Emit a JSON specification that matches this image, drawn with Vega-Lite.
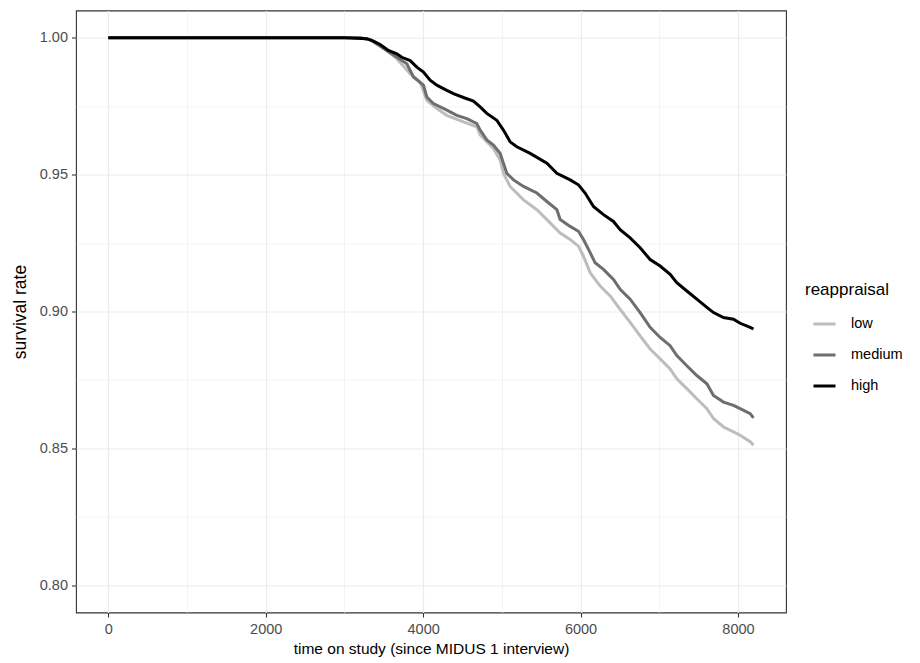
{
  "$schema": "https://vega.github.io/schema/vega-lite/v6.json",
  "width": 710,
  "height": 602,
  "autosize": {"type": "none"},
  "padding": {"left": 76, "top": 10.5, "right": 134, "bottom": 50.5},
  "background": "white",
  "config": {
    "font": "Liberation Sans",
    "view": {"stroke": "#333333", "strokeWidth": 1.1}
  },
  "datasets": {
    "km": [
      {"g": "low", "t": 0, "s": 1.0},
      {"g": "low", "t": 3200, "s": 1.0},
      {"g": "low", "t": 3330, "s": 0.9992},
      {"g": "low", "t": 3454, "s": 0.9972},
      {"g": "low", "t": 3666, "s": 0.9924},
      {"g": "low", "t": 3835, "s": 0.9869},
      {"g": "low", "t": 3962, "s": 0.9839},
      {"g": "low", "t": 4047, "s": 0.9772},
      {"g": "low", "t": 4174, "s": 0.9742},
      {"g": "low", "t": 4301, "s": 0.9717},
      {"g": "low", "t": 4512, "s": 0.9693},
      {"g": "low", "t": 4682, "s": 0.9675},
      {"g": "low", "t": 4724, "s": 0.9645},
      {"g": "low", "t": 4893, "s": 0.9596},
      {"g": "low", "t": 4978, "s": 0.9554},
      {"g": "low", "t": 5020, "s": 0.9505},
      {"g": "low", "t": 5105, "s": 0.9457},
      {"g": "low", "t": 5275, "s": 0.9408},
      {"g": "low", "t": 5445, "s": 0.9372},
      {"g": "low", "t": 5572, "s": 0.9336},
      {"g": "low", "t": 5741, "s": 0.9287},
      {"g": "low", "t": 5868, "s": 0.9263},
      {"g": "low", "t": 5973, "s": 0.9239},
      {"g": "low", "t": 6037, "s": 0.9202},
      {"g": "low", "t": 6122, "s": 0.9142},
      {"g": "low", "t": 6249, "s": 0.9093},
      {"g": "low", "t": 6376, "s": 0.9057},
      {"g": "low", "t": 6503, "s": 0.9008},
      {"g": "low", "t": 6630, "s": 0.896},
      {"g": "low", "t": 6757, "s": 0.8911},
      {"g": "low", "t": 6884, "s": 0.8863},
      {"g": "low", "t": 7011, "s": 0.8827},
      {"g": "low", "t": 7138, "s": 0.879},
      {"g": "low", "t": 7223, "s": 0.8754},
      {"g": "low", "t": 7350, "s": 0.8718},
      {"g": "low", "t": 7477, "s": 0.8681},
      {"g": "low", "t": 7605, "s": 0.8645},
      {"g": "low", "t": 7689, "s": 0.8609},
      {"g": "low", "t": 7816, "s": 0.8578},
      {"g": "low", "t": 7943, "s": 0.856},
      {"g": "low", "t": 8028, "s": 0.8548},
      {"g": "low", "t": 8155, "s": 0.8524},
      {"g": "low", "t": 8197, "s": 0.8511},

      {"g": "medium", "t": 0, "s": 1.0},
      {"g": "medium", "t": 3200, "s": 1.0},
      {"g": "medium", "t": 3330, "s": 0.9993},
      {"g": "medium", "t": 3411, "s": 0.9978},
      {"g": "medium", "t": 3538, "s": 0.9954},
      {"g": "medium", "t": 3666, "s": 0.9929},
      {"g": "medium", "t": 3793, "s": 0.9905},
      {"g": "medium", "t": 3877, "s": 0.9857},
      {"g": "medium", "t": 4004, "s": 0.9827},
      {"g": "medium", "t": 4047, "s": 0.9784},
      {"g": "medium", "t": 4131, "s": 0.976},
      {"g": "medium", "t": 4301, "s": 0.9736},
      {"g": "medium", "t": 4428, "s": 0.9717},
      {"g": "medium", "t": 4555, "s": 0.9705},
      {"g": "medium", "t": 4682, "s": 0.9687},
      {"g": "medium", "t": 4724, "s": 0.9663},
      {"g": "medium", "t": 4809, "s": 0.9627},
      {"g": "medium", "t": 4893, "s": 0.9608},
      {"g": "medium", "t": 4978, "s": 0.9578},
      {"g": "medium", "t": 5020, "s": 0.9542},
      {"g": "medium", "t": 5063, "s": 0.9505},
      {"g": "medium", "t": 5148, "s": 0.9481},
      {"g": "medium", "t": 5275, "s": 0.9457},
      {"g": "medium", "t": 5445, "s": 0.9433},
      {"g": "medium", "t": 5572, "s": 0.9402},
      {"g": "medium", "t": 5699, "s": 0.9372},
      {"g": "medium", "t": 5741, "s": 0.9336},
      {"g": "medium", "t": 5868, "s": 0.9311},
      {"g": "medium", "t": 5973, "s": 0.9293},
      {"g": "medium", "t": 6037, "s": 0.9263},
      {"g": "medium", "t": 6122, "s": 0.9215},
      {"g": "medium", "t": 6185, "s": 0.9178},
      {"g": "medium", "t": 6291, "s": 0.9154},
      {"g": "medium", "t": 6418, "s": 0.9117},
      {"g": "medium", "t": 6503, "s": 0.9081},
      {"g": "medium", "t": 6630, "s": 0.9045},
      {"g": "medium", "t": 6757, "s": 0.8996},
      {"g": "medium", "t": 6884, "s": 0.8942},
      {"g": "medium", "t": 7011, "s": 0.8905},
      {"g": "medium", "t": 7138, "s": 0.8875},
      {"g": "medium", "t": 7223, "s": 0.8839},
      {"g": "medium", "t": 7350, "s": 0.8802},
      {"g": "medium", "t": 7477, "s": 0.8766},
      {"g": "medium", "t": 7605, "s": 0.8736},
      {"g": "medium", "t": 7689, "s": 0.8693},
      {"g": "medium", "t": 7816, "s": 0.8669},
      {"g": "medium", "t": 7943, "s": 0.8657},
      {"g": "medium", "t": 8028, "s": 0.8645},
      {"g": "medium", "t": 8155, "s": 0.8627},
      {"g": "medium", "t": 8197, "s": 0.8611},

      {"g": "high", "t": 0, "s": 1.0},
      {"g": "high", "t": 3000, "s": 1.0},
      {"g": "high", "t": 3285, "s": 0.9997},
      {"g": "high", "t": 3369, "s": 0.9988},
      {"g": "high", "t": 3454, "s": 0.9976},
      {"g": "high", "t": 3559, "s": 0.9954},
      {"g": "high", "t": 3666, "s": 0.9942},
      {"g": "high", "t": 3729, "s": 0.9929},
      {"g": "high", "t": 3835, "s": 0.9917},
      {"g": "high", "t": 3920, "s": 0.9893},
      {"g": "high", "t": 4004, "s": 0.9875},
      {"g": "high", "t": 4089, "s": 0.9845},
      {"g": "high", "t": 4174, "s": 0.9827},
      {"g": "high", "t": 4301, "s": 0.9808},
      {"g": "high", "t": 4385, "s": 0.9796},
      {"g": "high", "t": 4512, "s": 0.9782},
      {"g": "high", "t": 4639, "s": 0.9769},
      {"g": "high", "t": 4724, "s": 0.9748},
      {"g": "high", "t": 4809, "s": 0.9724},
      {"g": "high", "t": 4936, "s": 0.9699},
      {"g": "high", "t": 5020, "s": 0.9663},
      {"g": "high", "t": 5105, "s": 0.962},
      {"g": "high", "t": 5190, "s": 0.9602},
      {"g": "high", "t": 5360, "s": 0.9578},
      {"g": "high", "t": 5572, "s": 0.9542},
      {"g": "high", "t": 5699, "s": 0.9505},
      {"g": "high", "t": 5868, "s": 0.9481},
      {"g": "high", "t": 5973, "s": 0.9463},
      {"g": "high", "t": 6058, "s": 0.9433},
      {"g": "high", "t": 6164, "s": 0.9384},
      {"g": "high", "t": 6291, "s": 0.9354},
      {"g": "high", "t": 6418, "s": 0.9329},
      {"g": "high", "t": 6503, "s": 0.9299},
      {"g": "high", "t": 6630, "s": 0.9269},
      {"g": "high", "t": 6757, "s": 0.9233},
      {"g": "high", "t": 6884, "s": 0.919},
      {"g": "high", "t": 7011, "s": 0.9166},
      {"g": "high", "t": 7138, "s": 0.9136},
      {"g": "high", "t": 7223, "s": 0.9105},
      {"g": "high", "t": 7350, "s": 0.9075},
      {"g": "high", "t": 7477, "s": 0.9045},
      {"g": "high", "t": 7605, "s": 0.9015},
      {"g": "high", "t": 7689, "s": 0.8996},
      {"g": "high", "t": 7816, "s": 0.8978},
      {"g": "high", "t": 7943, "s": 0.8972},
      {"g": "high", "t": 8028, "s": 0.8957},
      {"g": "high", "t": 8155, "s": 0.8942},
      {"g": "high", "t": 8197, "s": 0.8936}
    ]
  },
  "data": {"name": "km"},
  "mark": {"type": "line", "strokeWidth": 3, "clip": true, "strokeJoin": "miter"},
  "encoding": {
    "x": {
      "field": "t",
      "type": "quantitative",
      "title": "time on study (since MIDUS 1 interview)",
      "scale": {"domain": [-410, 8610], "nice": false, "zero": false},
      "axis": {
        "values": [0, 1000, 2000, 3000, 4000, 5000, 6000, 7000, 8000],
        "format": "d",
        "labelExpr": "datum.value % 2000 === 0 ? datum.label : ''",
        "domain": false,
        "grid": true,
        "gridColor": "#EBEBEB",
        "gridWidth": {"condition": {"test": "datum.value % 2000 !== 0", "value": 0.6}, "value": 1.2},
        "tickOpacity": {"condition": {"test": "datum.value % 2000 !== 0", "value": 0}, "value": 1},
        "tickColor": "#333333",
        "tickSize": 4.5,
        "tickWidth": 1.1,
        "labelColor": "#4D4D4D",
        "labelFontSize": 14.5,
        "labelPadding": 5,
        "labelFlush": false,
        "titleFontSize": 15.5,
        "titleFontWeight": "normal",
        "titleColor": "#000000",
        "titlePadding": 6
      }
    },
    "y": {
      "field": "s",
      "type": "quantitative",
      "title": "survival rate",
      "scale": {"domain": [0.79, 1.01], "nice": false, "zero": false},
      "axis": {
        "values": [0.8, 0.825, 0.85, 0.875, 0.9, 0.925, 0.95, 0.975, 1.0],
        "format": ".2f",
        "labelExpr": "abs(datum.value * 20 - round(datum.value * 20)) > 0.01 ? '' : datum.label",
        "domain": false,
        "grid": true,
        "gridColor": "#EBEBEB",
        "gridWidth": {"condition": {"test": "abs(datum.value * 20 - round(datum.value * 20)) > 0.01", "value": 0.6}, "value": 1.2},
        "tickOpacity": {"condition": {"test": "abs(datum.value * 20 - round(datum.value * 20)) > 0.01", "value": 0}, "value": 1},
        "tickColor": "#333333",
        "tickSize": 4.5,
        "tickWidth": 1.1,
        "labelColor": "#4D4D4D",
        "labelFontSize": 14.5,
        "labelPadding": 4,
        "labelFlush": false,
        "titleFontSize": 17.5,
        "titleFontWeight": "normal",
        "titleColor": "#000000",
        "titlePadding": 10
      }
    },
    "color": {
      "field": "g",
      "type": "nominal",
      "title": "reappraisal",
      "scale": {"domain": ["low", "medium", "high"], "range": ["#BDBDBD", "#6E6E6E", "#000000"]},
      "legend": {
        "orient": "none",
        "legendX": 729,
        "legendY": 271,
        "symbolType": "stroke",
        "symbolSize": 484,
        "symbolStrokeWidth": 3,
        "symbolOffset": 7,
        "labelOffset": 14,
        "labelFontSize": 14.5,
        "labelColor": "#000000",
        "titleFontSize": 17,
        "titleFontWeight": "normal",
        "titleColor": "#000000",
        "titlePadding": 13,
        "rowPadding": 12
      }
    }
  }
}
